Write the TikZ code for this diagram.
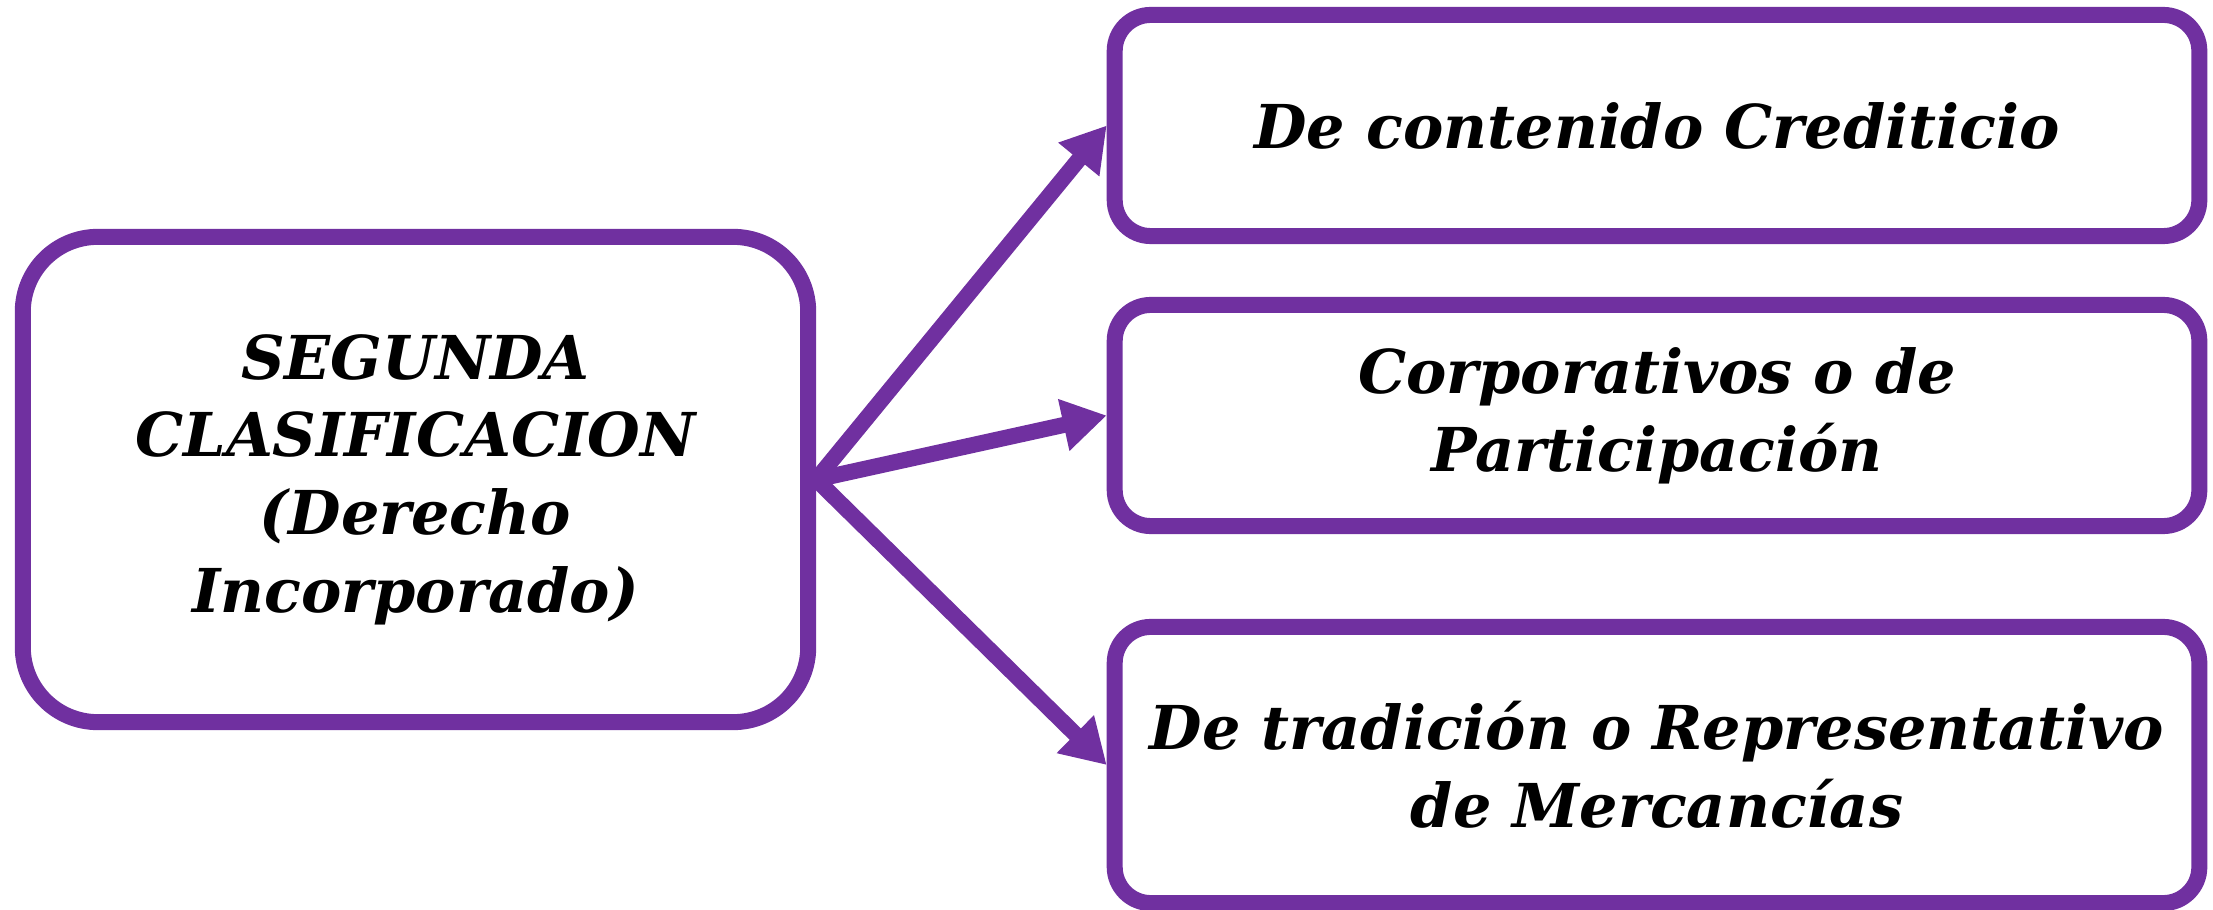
\documentclass[tikz,border=0pt]{standalone}
\usepackage{fontspec}
\setmainfont{DejaVu Serif}
\usetikzlibrary{arrows.meta}
\definecolor{boxpurple}{RGB}{112,48,160}
\begin{document}
\begin{tikzpicture}[x=0.01cm,y=-0.01cm,line width=0.16cm,
  txt/.style={font={\fontsize{17.2}{22.1}\selectfont\bfseries\itshape}, align=center, text=black},
  bigbox/.style={draw=boxpurple, fill=white, rounded corners=0.75cm, txt},
  smallbox/.style={draw=boxpurple, fill=white, rounded corners=0.36cm, txt, minimum width=10.84cm},
  conn/.style={draw=boxpurple, -{Triangle[length=0.44cm,width=0.5cm]}}]
\useasboundingbox (0,0) rectangle (2213,910);
\node[bigbox, minimum width=7.85cm, minimum height=4.85cm] (left) at (415.5,479.5)
  {SEGUNDA\\CLASIFICACION\\(Derecho\\Incorporado)};
\node[smallbox, minimum height=2.21cm] (b1) at (1657,125.5) {De contenido Crediticio};
\node[smallbox, minimum height=2.21cm] (b2) at (1657,415.5) {Corporativos o de\\Participación};
\node[smallbox, minimum height=2.76cm] (b3) at (1657,765) {De tradición o Representativo\\de Mercancías};
\draw[conn] (left.east) -- (b1.west);
\draw[conn] (left.east) -- (b2.west);
\draw[conn] (left.east) -- (b3.west);
\end{tikzpicture}
\end{document}
